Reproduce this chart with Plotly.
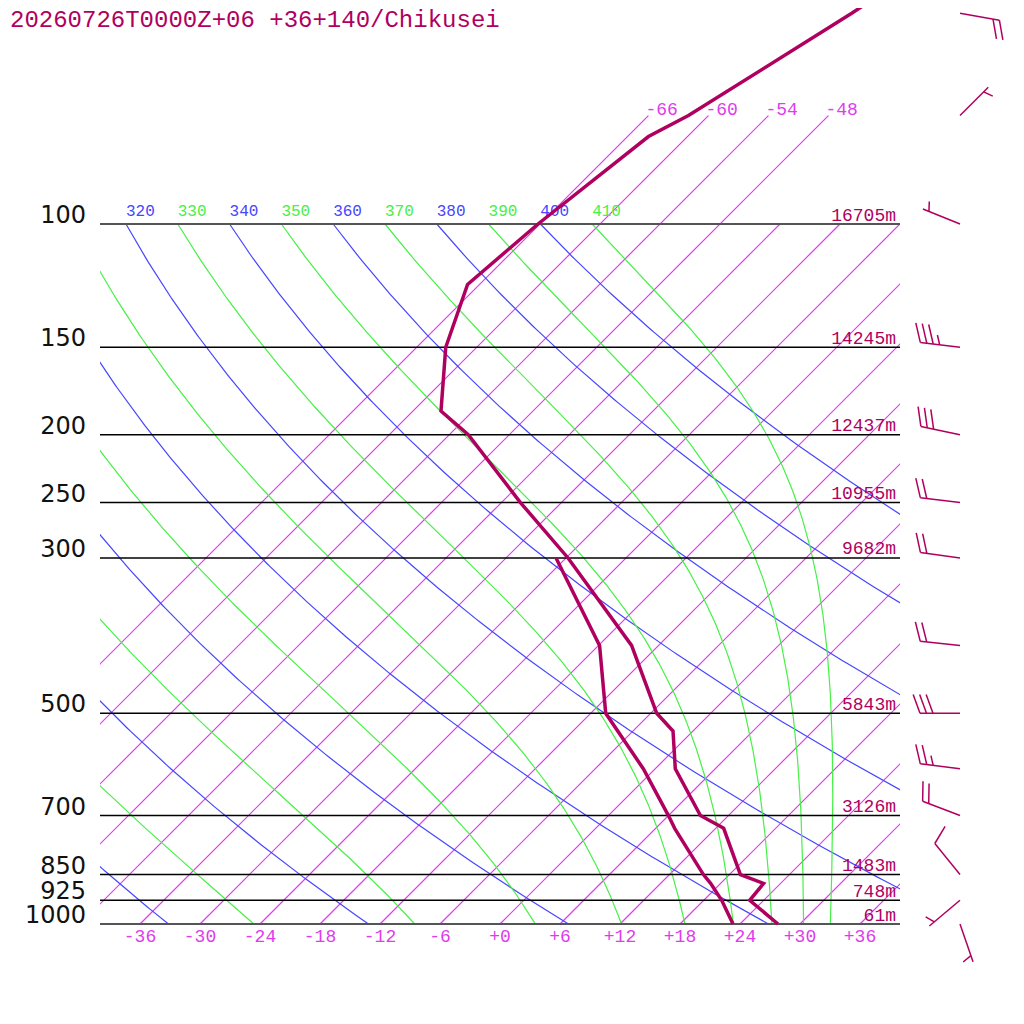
import numpy as np
import plotly.graph_objects as go

TITLE = '20260726T0000Z+06 +36+140/Chikusei'

# sounding profile (hPa, degC)
temp_p = [1000, 925, 875, 850, 730, 700, 600, 530, 500, 400, 300, 250, 200, 185, 150, 122, 100, 75, 70, 50, 40]
temp_t = [27.8, 22.6, 22.3, 19.1, 12.8, 9.2, 2.0, -2.0, -5.4, -14.7, -29.8, -40.1, -52.1, -57.2, -63.1, -67.2,
          -66.2, -63.9, -62.0, -55.9, -52.5]
dewp_p = [1000, 925, 875, 850, 730, 700, 600, 530, 500, 400, 300]
dewp_t = [23.3, 19.8, 17.0, 15.4, 7.9, 6.0, -1.2, -7.6, -10.5, -17.9, -31.0]

# standard levels and geopotential heights
lev_p = [100, 150, 200, 250, 300, 500, 700, 850, 925, 1000]
lev_h = ['16705m', '14245m', '12437m', '10955m', '9682m', '5843m', '3126m', '1483m', '748m', '61m']

# winds (direction deg, speed kt)
wind_p = [50, 70, 100, 150, 200, 250, 300, 400, 500, 600, 700, 850, 925, 1000]
wind_dir = [100, 45, 292, 277, 282, 277, 278, 276, 270, 277, 291, 321, 230, 161]
wind_kt = [20, 5, 5, 35, 30, 20, 20, 20, 30, 25, 20, 10, 5, 5]

# background lines
isotherms = [-66, -60, -54, -48, -42, -36, -30, -24, -18, -12, -6, 0, 6, 12, 18, 24, 30, 36]
iso_labelled = [-66, -60, -54, -48]
dry_theta = [240, 260, 280, 300, 320, 340, 360, 380, 400]
moist_theta = [250, 270, 290, 310, 330, 350, 370, 390, 410]
bottom_ticks = [-36, -30, -24, -18, -12, -6, 0, 6, 12, 18, 24, 30, 36]
bottom_text = ['-36', '-30', '-24', '-18', '-12', '-6', '+0', '+6', '+12', '+18', '+24', '+30', '+36']

SKEW = 70.0   # degC of shift per decade of pressure
KAPPA = 0.2857
RD, CPD, LV, EPS = 287.04, 1005.7, 2.501e6, 0.622
OFF = 8       # page margin of the html body

PROFILE = '#b0005f'
BLUE = 'rgb(70,70,255)'
GREEN = 'rgb(70,240,70)'
PURPLE = 'rgb(222,60,236)'
MONO = 'Liberation Mono, Courier New, monospace'


def skew_x(t, p):
    return np.asarray(t, dtype=float) + SKEW * np.log10(1000.0 / np.asarray(p, dtype=float))


def lift(p, px):
    # pressure that sits px pixels above p on the chart
    return np.asarray(p, dtype=float) * 10 ** (-px / 700.0)


def dtdlnp(T, p):
    es = 6.112 * np.exp(17.67 * (T - 273.15) / (T - 29.65))
    rs = EPS * es / (p - es)
    return (RD * T + LV * rs) / (CPD + LV * LV * rs * EPS / (RD * T * T))


def moist_curve(theta, pp):
    T = theta * (pp[0] / 1000.0) ** KAPPA
    out = [T]
    for i in range(1, len(pp)):
        l0, l1 = np.log(pp[i - 1]), np.log(pp[i])
        h = l1 - l0
        k1 = dtdlnp(T, np.exp(l0))
        k2 = dtdlnp(T + h * k1 / 2, np.exp(l0 + h / 2))
        k3 = dtdlnp(T + h * k2 / 2, np.exp(l0 + h / 2))
        k4 = dtdlnp(T + h * k3, np.exp(l1))
        T = T + h * (k1 + 2 * k2 + 2 * k3 + k4) / 6
        out.append(T)
    return np.array(out) - 273.15


fig = go.Figure()
pgrid = np.geomspace(100, 1000, 240)

# isotherms
ix, iy = [], []
for t in isotherms:
    ptop = 70 if t in iso_labelled else 100
    ix += list(skew_x([t, t], [1000, ptop])) + [None]
    iy += [1000, ptop, None]
fig.add_trace(go.Scatter(x=ix, y=iy, mode='lines', line=dict(color=PURPLE, width=1.2), hoverinfo='skip'))

# dry adiabats
for th in dry_theta:
    tt = th * (pgrid / 1000.0) ** KAPPA - 273.15
    fig.add_trace(go.Scatter(x=skew_x(tt, pgrid), y=pgrid, mode='lines',
                             line=dict(color=BLUE, width=1.2), hoverinfo='skip'))

# moist adiabats
for th in moist_theta:
    tt = moist_curve(th, pgrid)
    fig.add_trace(go.Scatter(x=skew_x(tt, pgrid), y=pgrid, mode='lines',
                             line=dict(color=GREEN, width=1.2), hoverinfo='skip'))

# theta labels along 100 hPa (clipped at the left edge)
lab_x, lab_c, lab_t = [], [], []
for th in sorted(dry_theta + moist_theta):
    xx = float(skew_x(th * 0.1 ** KAPPA - 273.15, 100))
    if xx < -45:
        continue
    lab_x.append(xx)
    lab_c.append(BLUE if th in dry_theta else GREEN)
    lab_t.append(str(th))
fig.add_trace(go.Scatter(x=lab_x, y=lift([100] * len(lab_x), 12), mode='text', text=lab_t,
                         textposition='middle right', cliponaxis=True,
                         textfont=dict(family=MONO, size=16, color=lab_c), hoverinfo='skip'))

# isotherm labels on top
fig.add_trace(go.Scatter(x=skew_x(iso_labelled, [70] * len(iso_labelled)) - 0.3, y=lift([70] * 4, 5.5),
                         mode='text', text=[str(t) for t in iso_labelled], textposition='middle right',
                         textfont=dict(family=MONO, size=18, color=PURPLE), hoverinfo='skip'))

# pressure lines
for p in lev_p:
    edge = p in (100, 1000)
    fig.add_trace(go.Scatter(x=[-40, 40], y=[p, p], mode='lines',
                             line=dict(color='#555555' if edge else 'black', width=2 if edge else 1.5),
                             hoverinfo='skip'))

# height labels
fig.add_trace(go.Scatter(x=[39.6] * len(lev_p), y=lift(lev_p, 8), mode='text', text=lev_h,
                         textposition='middle left',
                         textfont=dict(family=MONO, size=18, color=PROFILE), hoverinfo='skip'))

# temperature labels under the chart
fig.add_trace(go.Scatter(x=bottom_ticks, y=lift([1000] * len(bottom_ticks), -13), mode='text', text=bottom_text,
                         textposition='middle center', cliponaxis=False,
                         textfont=dict(family=MONO, size=18, color=PURPLE), hoverinfo='skip'))

# profiles
fig.add_trace(go.Scatter(x=skew_x(dewp_t, dewp_p), y=dewp_p, mode='lines',
                         line=dict(color=PROFILE, width=3.5), hoverinfo='skip'))
fig.add_trace(go.Scatter(x=skew_x(temp_t, temp_p), y=temp_p, mode='lines',
                         line=dict(color=PROFILE, width=3.5), hoverinfo='skip'))

# pressure labels on the left
fig.add_trace(go.Scatter(x=[86] * len(lev_p), y=lift(lev_p, 7), xaxis='x3', mode='text',
                         text=[str(p) for p in lev_p], textposition='middle left', cliponaxis=False,
                         textfont=dict(family='DejaVu Sans', size=24, color='#111111'), hoverinfo='skip'))

# wind barbs
bx, by = [], []
rot = np.radians(70)
for p, d, s in zip(wind_p, wind_dir, wind_kt):
    a = np.radians(d)
    ux, uy = np.sin(a), -np.cos(a)
    vx = ux * np.cos(rot) - uy * np.sin(rot)
    vy = ux * np.sin(rot) + uy * np.cos(rot)

    def pt(dx, dy):
        return 960 + dx, float(lift(p, -dy))

    L = 40
    x0, y0 = pt(0, 0)
    x1, y1 = pt(L * ux, L * uy)
    bx += [x0, x1, None]
    by += [y0, y1, None]
    n10, n5 = s // 10, (s % 10) // 5
    pos = L if n10 else L - 6.5
    for k in range(n10 + n5):
        ln = 20 if k < n10 else 10
        sx, sy = pos * ux, pos * uy
        xa, ya = pt(sx, sy)
        xb, yb = pt(sx + ln * vx, sy + ln * vy)
        bx += [xa, xb, None]
        by += [ya, yb, None]
        pos -= 6.5
fig.add_trace(go.Scatter(x=bx, y=by, xaxis='x2', mode='lines', line=dict(color=PROFILE, width=1.5),
                         hoverinfo='skip'))

fig.add_annotation(text=TITLE, xref='paper', yref='paper', x=0, y=1 - (20 - OFF) / 1024,
                   xanchor='left', yanchor='middle', showarrow=False,
                   font=dict(family=MONO, size=24, color=PROFILE))

fig.update_layout(
    width=1024, height=1024, margin=dict(l=0, r=0, t=0, b=0),
    paper_bgcolor='white', plot_bgcolor='rgba(0,0,0,0)', showlegend=False,
    xaxis=dict(domain=[(100 - OFF) / 1024, (900 - OFF) / 1024], range=[-40, 40], visible=False),
    yaxis=dict(domain=[0, 1], type='log', range=[3 + (1024 + OFF - 924) / 700, 3 - (924 - OFF) / 700],
               visible=False),
    xaxis2=dict(domain=[(900 - OFF) / 1024, 1], range=[900, 1024 + OFF], anchor='y', visible=False),
    xaxis3=dict(domain=[0, (100 - OFF) / 1024], range=[OFF, 100], anchor='y', visible=False),
)

fig.write_html('out.html')
